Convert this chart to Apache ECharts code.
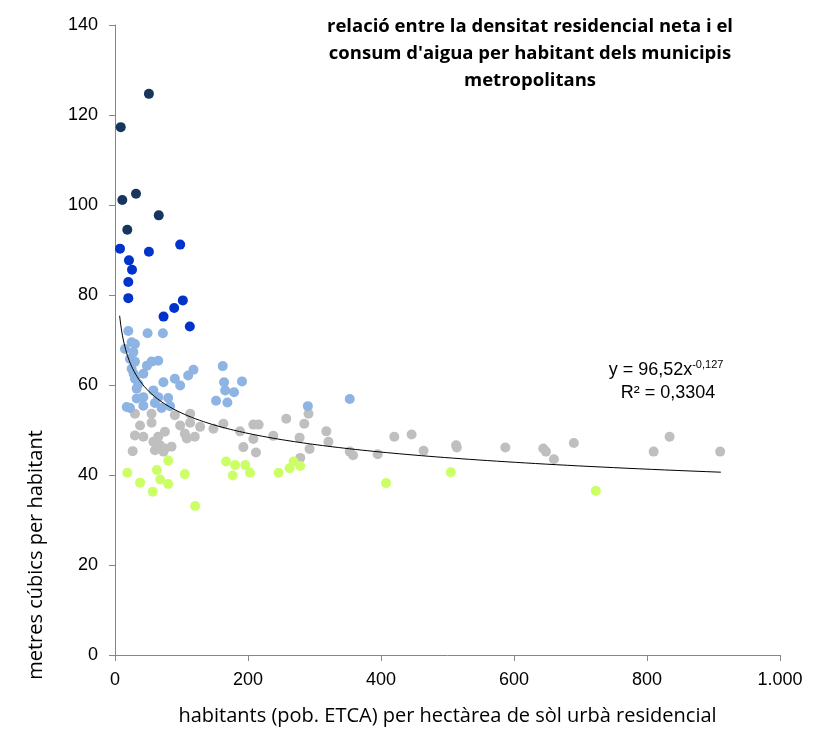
<!DOCTYPE html>
<html>
<head>
<meta charset="utf-8">
<script src="https://cdn.jsdelivr.net/npm/echarts@6/dist/echarts.min.js"></script>
<style>
html,body{margin:0;padding:0;background:#fff;}
#chart{width:818px;height:731px;}
</style>
</head>
<body>
<div id="chart"></div>
<script>
// ---- data (x: habitants per hectàrea, y: m3 per habitant) ----
var navyPoints = [[8.6,117.3],[51,124.7],[11,101.1],[31.6,102.5],[65.8,97.7],[18.5,94.5]];
var bluePoints = [[7.5,90.3],[51,89.6],[98,91.2],[21,87.7],[25.6,85.6],[20,82.9],[20,79.3],[102,78.8],[89,77.1],[73,75.2],[112.5,73.0]];
var lightBluePoints = [
  [20,72],[49,71.5],[72,71.5],[25,69.5],[30,69.1],[15,68],[27.6,67.3],[22.6,65.8],[30,65.2],[25,63.6],
  [48,64.3],[55,65.2],[65,65.4],[42.6,62.5],[30,61.4],[72.8,60.6],[90,61.4],[118,63.4],[110,62.1],[98,59.9],
  [32.6,59.2],[57.7,58.8],[32.6,57],[42.6,57.3],[65,57.3],[80,57.1],[22.6,54.9],[42.6,55.4],[70,54.9],[82.8,55.3],
  [17.6,55.1],[60,56],[28,62.5],[35,60.2],[162,64.2],[164,60.6],[191,60.8],[165.7,58.8],[179,58.4],[169,56.1],
  [152,56.5],[290,55.3],[353,56.9]
];
var grayPoints = [
  [30,53.6],[55,53.6],[90,53.3],[113,53.6],[37.7,51],[55,51.6],[98,51],[113,51.6],[128,50.7],[148,50.3],
  [30,48.8],[42.6,48.5],[75,49.6],[65,48.5],[105,49.2],[108,48.1],[120,48.5],[57.7,47.4],[67.8,46.6],[60,45.5],
  [75,45.9],[85,46.3],[26.6,45.3],[73,45.2],[163,51.4],[188,49.7],[208,51.2],[216,51.2],[208,48],[193,46.2],
  [212,45],[238,48.7],[257.5,52.5],[284.6,51.4],[291,53.6],[277.6,48.3],[292.6,45.8],[278.6,43.8],[317.8,49.7],[321,47.4],
  [353,45.2],[358,44.4],[395,44.6],[420,48.5],[446,49],[464,45.4],[513,46.6],[514,46.1],[587,46.1],[644,45.9],
  [648,45.2],[660,43.5],[690,47.1],[810,45.2],[834,48.5],[910,45.2]
];
var limePoints = [
  [80,43.2],[18.5,40.5],[63,41.1],[105,40.2],[37.7,38.3],[68,39],[80,38],[56.8,36.3],[120.5,33.1],
  [167,43],[180.7,42.2],[177,39.9],[196,42.2],[203,40.5],[246,40.5],[262.5,41.5],[268.6,43],[278.6,42],
  [407.6,38.2],[505,40.6],[723,36.5]
];
// trend line as printed on the chart: y = 96,52 x^-0,127
var TREND_A = 96.52, TREND_B = -0.127, TREND_X0 = 7, TREND_X1 = 911;
var xTicks = [0,200,400,600,800,1000];
var yTicks = [0,20,40,60,80,100,120,140];

var trendPoints = [];
for (var i = 0; i <= 200; i++) {
  var x = TREND_X0 * Math.pow(TREND_X1 / TREND_X0, i / 200);
  trendPoints.push([x, TREND_A * Math.pow(x, TREND_B)]);
}

var chart = echarts.init(document.getElementById('chart'));
var axisColor = '#868686';
function sc(name, data, color) {
  return {name:name, type:'scatter', data:data, symbolSize:10, itemStyle:{color:color, opacity:1}, z:3};
}
chart.setOption({
  animation:false,
  backgroundColor:'#fff',
  grid:{left:115, right:38, top:25, bottom:75},
  title:{
    text:"relació entre la densitat residencial neta i el\nconsum d'aigua per habitant dels municipis\nmetropolitans",
    left:525, top:8, textAlign:'center',
    textStyle:{fontFamily:'"Open Sans",sans-serif', fontWeight:'bold', fontSize:18.5, lineHeight:27, color:'#000'}
  },
  xAxis:{
    type:'value', min:0, max:1000, interval:200,
    axisLine:{show:true, lineStyle:{color:axisColor}},
    axisTick:{show:true, length:6, lineStyle:{color:axisColor}},
    splitLine:{show:false},
    axisLabel:{color:'#000', fontSize:18, margin:16, fontFamily:'"Liberation Sans",Arial,sans-serif',
      formatter:function(v){return v>=1000 ? (Math.floor(v/1000)+'.'+('00'+(v%1000)).slice(-3)) : String(v);}},
    name:'habitants (pob. ETCA) per hectàrea de sòl urbà residencial',
    nameLocation:'middle', nameGap:51,
    nameTextStyle:{color:'#000', fontSize:20, fontFamily:'"Open Sans",sans-serif'}
  },
  yAxis:{
    type:'value', min:0, max:140, interval:20,
    axisLine:{show:true, lineStyle:{color:axisColor}},
    axisTick:{show:true, length:6, lineStyle:{color:axisColor}},
    splitLine:{show:false},
    axisLabel:{color:'#000', fontSize:18, margin:17, fontFamily:'"Liberation Sans",Arial,sans-serif'}
  },
  graphic:[
    {type:'text', x:36, y:555, rotation:Math.PI/2,
     style:{text:'metres cúbics per habitant', fontSize:20, fontFamily:'"Open Sans",sans-serif', fill:'#000', textAlign:'center', textVerticalAlign:'middle'}},
    {type:'text', x:666, y:370,
     style:{text:'{b|y = 96,52x}{s|-0,127}', textAlign:'center', textVerticalAlign:'middle',
       rich:{b:{fontSize:18, fontFamily:'"Liberation Sans",Arial,sans-serif', color:'#000'},
             s:{fontSize:11, fontFamily:'"Liberation Sans",Arial,sans-serif', color:'#000', verticalAlign:'top', padding:[0,0,10,0]}}}},
    {type:'text', x:668, y:393,
     style:{text:'R² = 0,3304', fontSize:18, fontFamily:'"Liberation Sans",Arial,sans-serif', fill:'#000', textAlign:'center', textVerticalAlign:'middle'}}
  ],
  series:[
    sc('gray', grayPoints, '#bfbfbf'),
    sc('lime', limePoints, '#ccff66'),
    sc('lightblue', lightBluePoints, '#8db4e2'),
    sc('blue', bluePoints, '#0033cc'),
    sc('navy', navyPoints, '#17365d'),
    {name:'trend', type:'line', data:trendPoints, showSymbol:false, symbol:'none', smooth:false,
     lineStyle:{color:'#000', width:1}, z:4}
  ]
});
</script>
</body>
</html>
